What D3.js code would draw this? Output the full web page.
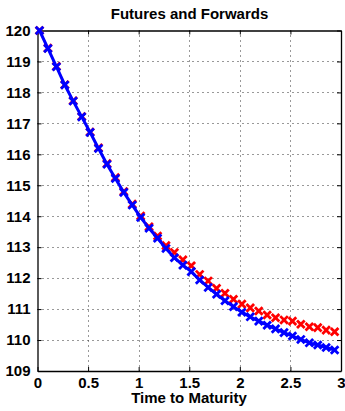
<!DOCTYPE html>
<html><head><meta charset="utf-8">
<script src="https://cdn.jsdelivr.net/npm/d3@7"></script>
<style>
html,body{margin:0;padding:0;background:#fff;}
text{font-family:"Liberation Sans",Arial,Helvetica,sans-serif;font-weight:bold;fill:#000;}
</style></head>
<body>
<svg id="chart" width="345" height="411"></svg>
<script>
const title = "Futures and Forwards";
const xLabel = "Time to Maturity";
const times = [0.02,0.103,0.187,0.27,0.353,0.437,0.52,0.603,0.687,0.77,0.853,0.937,1.02,1.103,1.187,1.27,1.353,1.437,1.52,1.603,1.687,1.77,1.853,1.937,2.02,2.103,2.187,2.27,2.353,2.437,2.52,2.603,2.687,2.77,2.853,2.937];
const futures = [120.0,119.42,118.83,118.24,117.72,117.21,116.71,116.19,115.68,115.22,114.77,114.36,113.96,113.61,113.29,112.96,112.66,112.42,112.21,111.94,111.70,111.48,111.27,111.08,110.90,110.75,110.61,110.48,110.36,110.24,110.13,110.02,109.91,109.84,109.76,109.68];
const forwards = [120.0,119.43,118.84,118.25,117.73,117.22,116.72,116.21,115.70,115.25,114.80,114.39,114.01,113.66,113.36,113.05,112.83,112.59,112.40,112.12,111.91,111.67,111.51,111.32,111.16,111.04,110.94,110.81,110.72,110.65,110.61,110.51,110.43,110.40,110.32,110.27];
const xTicks = [0,0.5,1,1.5,2,2.5,3];
const xTickLabels = ["0","0.5","1","1.5","2","2.5","3"];
const yTicks = [109,110,111,112,113,114,115,116,117,118,119,120];

const svg = d3.select("#chart");
const L = 37.5, R = 341, T = 30.5, B = 371;
const x = d3.scaleLinear().domain([0,3]).range([L,R]);
const y = d3.scaleLinear().domain([109,120]).range([B,T]);

// grid
const g = svg.append("g");
g.selectAll(".gx").data(xTicks.slice(1,-1)).join("line")
  .attr("x1",d=>Math.round(x(d))+0.5).attr("x2",d=>Math.round(x(d))+0.5)
  .attr("y1",T).attr("y2",B)
  .attr("stroke","#333").attr("stroke-width",1).attr("stroke-dasharray","1,4");
g.selectAll(".gy").data(yTicks.slice(1,-1)).join("line")
  .attr("y1",d=>Math.round(y(d))+0.5).attr("y2",d=>Math.round(y(d))+0.5)
  .attr("x1",L).attr("x2",R)
  .attr("stroke","#333").attr("stroke-width",1).attr("stroke-dasharray","1,4");

// axes
const xAxisB = d3.axisBottom(x).tickValues(xTicks).tickFormat((d,i)=>xTickLabels[i]).tickSizeInner(-4).tickSizeOuter(0).tickPadding(6);
const xAxisT = d3.axisTop(x).tickValues(xTicks).tickFormat("").tickSizeInner(-4).tickSizeOuter(0);
const yAxisL = d3.axisLeft(y).tickValues(yTicks).tickFormat(d3.format("d")).tickSizeInner(-4).tickSizeOuter(0).tickPadding(7);
const yAxisR = d3.axisRight(y).tickValues(yTicks).tickFormat("").tickSizeInner(-4).tickSizeOuter(0);

function style(sel){
  sel.select(".domain").attr("stroke","#000").attr("stroke-width",1.3);
  sel.selectAll(".tick line").attr("stroke","#000");
  sel.selectAll(".tick text").style("font-size","15px").style("font-weight","bold")
     .style("font-family",'"Liberation Sans",Arial,sans-serif').attr("fill","#000");
}
svg.append("g").attr("transform",`translate(0,${B})`).call(xAxisB).call(style);
svg.append("g").attr("transform",`translate(0,${T})`).call(xAxisT).call(style);
svg.append("g").attr("transform",`translate(${L},0)`).call(yAxisL).call(style);
svg.append("g").attr("transform",`translate(${R},0)`).call(yAxisR).call(style);

function xMarks(sel, data, color){
  const s = 3.8;
  const m = sel.selectAll(null).data(data).join("g")
    .attr("transform",(d,i)=>`translate(${x(times[i])},${y(d)})`);
  m.append("path").attr("d",`M${-s},${-s}L${s},${s}M${-s},${s}L${s},${-s}`)
    .attr("stroke",color).attr("stroke-width",2.8).attr("fill","none");
}

// forwards (red markers only)
xMarks(svg.append("g"), forwards, "#ff0000");

// futures (blue line + markers)
const line = d3.line().x((d,i)=>x(times[i])).y(d=>y(d));
svg.append("path").datum(futures).attr("d",line)
  .attr("fill","none").attr("stroke","#0000ff").attr("stroke-width",3);
xMarks(svg.append("g"), futures, "#0000ff");

// labels
svg.append("text").attr("x",189.5).attr("y",18.5).attr("text-anchor","middle")
  .style("font-size","15px").text(title);
svg.append("text").attr("x",189).attr("y",403).attr("text-anchor","middle")
  .style("font-size","15px").text(xLabel);
</script>
</body></html>
